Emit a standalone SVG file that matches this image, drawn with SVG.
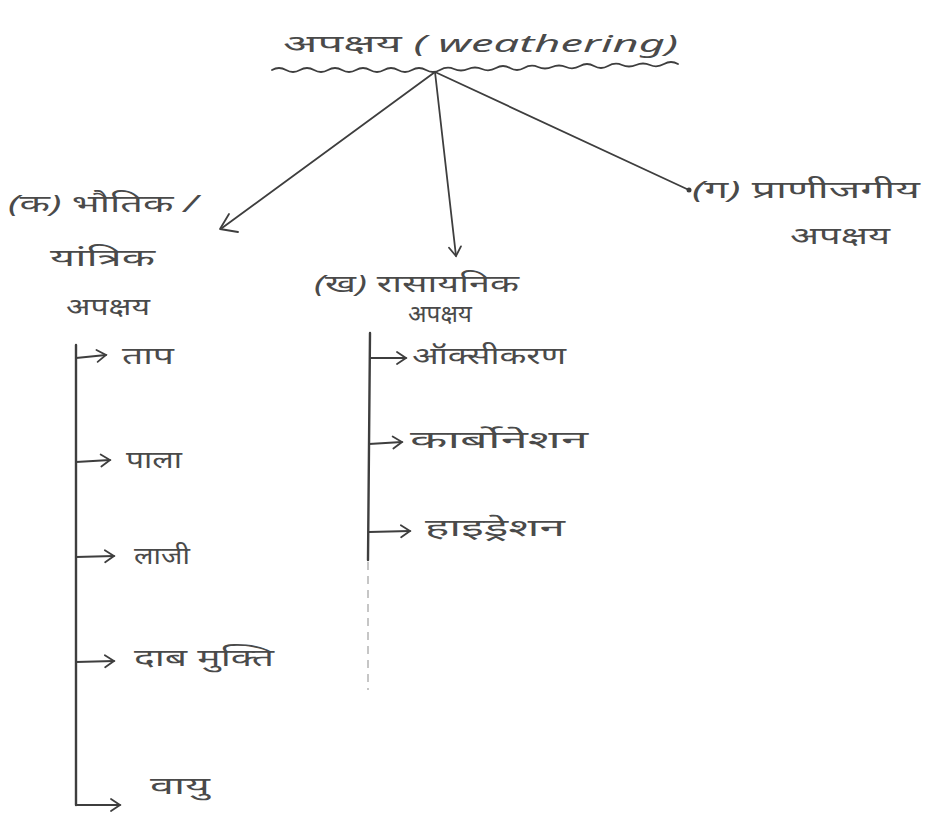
<svg xmlns="http://www.w3.org/2000/svg" width="925" height="814" viewBox="0 0 925 814">
<style>
.t{font-family:"Noto Sans","Noto Sans Devanagari","DejaVu Sans",sans-serif;fill:#4a4a4a;font-size:24px;font-style:italic}
.ln{stroke:#3e3e3e;stroke-width:1.8;fill:none;stroke-linecap:round;stroke-linejoin:round}
.fl{stroke:#3e3e3e;stroke-width:2.4;fill:none;stroke-linecap:round}
</style>
<defs>
<marker id="ah" markerWidth="16" markerHeight="16" refX="12" refY="8" orient="auto" markerUnits="userSpaceOnUse">
<path d="M3,2 L12,8 L3,14" fill="none" stroke="#3e3e3e" stroke-width="1.8" stroke-linecap="round"/>
</marker>
</defs>
<rect width="925" height="814" fill="#ffffff"/>
<g id="title">
<text class="t" x="283" y="52" font-size="30" textLength="395" lengthAdjust="spacingAndGlyphs">अपक्षय ( weathering)</text>
<path class="ln" stroke-width="1.4" d="M272,70 q7,-4 14,0 t14,0 t14,0 t14,0 t14,0 t14,0 t14,0 t14,0 t14,0 t14,0 t14,0 t14,0 t14,-1 t14,0 t14,0 t14,-1 t14,0 t14,0 t14,-1 t14,0 t14,0 t14,-1 t14,0 t14,0 t14,-1 t14,0 t14,0 t14,-1 t14,0"/>
</g>
<g id="connectors">
<line class="ln" x1="435" y1="72" x2="222" y2="228"/>
<path class="ln" d="M229,214 L220,229 L238,232"/>
<line class="ln" x1="435" y1="72" x2="456" y2="256" marker-end="url(#ah)"/>
<line class="ln" x1="435" y1="72" x2="689" y2="190"/>
<circle cx="689" cy="190" r="2.5" fill="#3e3e3e"/>
<line class="fl" x1="76" y1="345" x2="76" y2="805"/>
<line class="ln" x1="76" y1="358" x2="106" y2="355" marker-end="url(#ah)"/>
<line class="ln" x1="76" y1="462" x2="110" y2="460" marker-end="url(#ah)"/>
<line class="ln" x1="76" y1="557" x2="114" y2="556" marker-end="url(#ah)"/>
<line class="ln" x1="76" y1="662" x2="114" y2="661" marker-end="url(#ah)"/>
<line class="ln" x1="76" y1="805" x2="120" y2="805" marker-end="url(#ah)"/>
<line class="fl" x1="370" y1="333" x2="368" y2="560"/>
<line stroke="#b8b8b8" stroke-width="1.6" stroke-dasharray="8,6" x1="368" y1="562" x2="368" y2="690"/>
<line class="ln" x1="370" y1="358" x2="406" y2="358" marker-end="url(#ah)"/>
<line class="ln" x1="369" y1="444" x2="402" y2="442" marker-end="url(#ah)"/>
<line class="ln" x1="369" y1="532" x2="410" y2="531" marker-end="url(#ah)"/>
</g>
<g id="n-physical">
<text class="t" x="8" y="212" textLength="190" lengthAdjust="spacingAndGlyphs">(क) भौतिक /</text>
<text class="t" x="50" y="266" textLength="105" lengthAdjust="spacingAndGlyphs">यांत्रिक</text>
<text class="t" x="66" y="315" textLength="84" lengthAdjust="spacingAndGlyphs">अपक्षय</text>
</g>
<g id="n-chemical">
<text class="t" x="314" y="292" textLength="205" lengthAdjust="spacingAndGlyphs">(ख) रासायनिक</text>
<text class="t" x="408" y="322" textLength="64" lengthAdjust="spacingAndGlyphs">अपक्षय</text>
</g>
<g id="n-bio">
<text class="t" x="692" y="198" textLength="228" lengthAdjust="spacingAndGlyphs">(ग) प्राणीजगीय</text>
<text class="t" x="790" y="244" textLength="100" lengthAdjust="spacingAndGlyphs">अपक्षय</text>
</g>
<g id="p-1"><text class="t" x="122" y="364" textLength="52" lengthAdjust="spacingAndGlyphs">ताप</text></g>
<g id="p-2"><text class="t" x="126" y="468" textLength="56" lengthAdjust="spacingAndGlyphs">पाला</text></g>
<g id="p-3"><text class="t" x="134" y="564" textLength="56" lengthAdjust="spacingAndGlyphs">लाजी</text></g>
<g id="p-4"><text class="t" x="134" y="666" textLength="140" lengthAdjust="spacingAndGlyphs">दाब मुक्ति</text></g>
<g id="p-5"><text class="t" x="150" y="794" textLength="60" lengthAdjust="spacingAndGlyphs">वायु</text></g>
<g id="c-1"><text class="t" x="412" y="364" textLength="154" lengthAdjust="spacingAndGlyphs">ऑक्सीकरण</text></g>
<g id="c-2"><text class="t" x="410" y="448" textLength="178" lengthAdjust="spacingAndGlyphs">कार्बोनेशन</text></g>
<g id="c-3"><text class="t" x="425" y="536" textLength="140" lengthAdjust="spacingAndGlyphs">हाइड्रेशन</text></g>
</svg>
